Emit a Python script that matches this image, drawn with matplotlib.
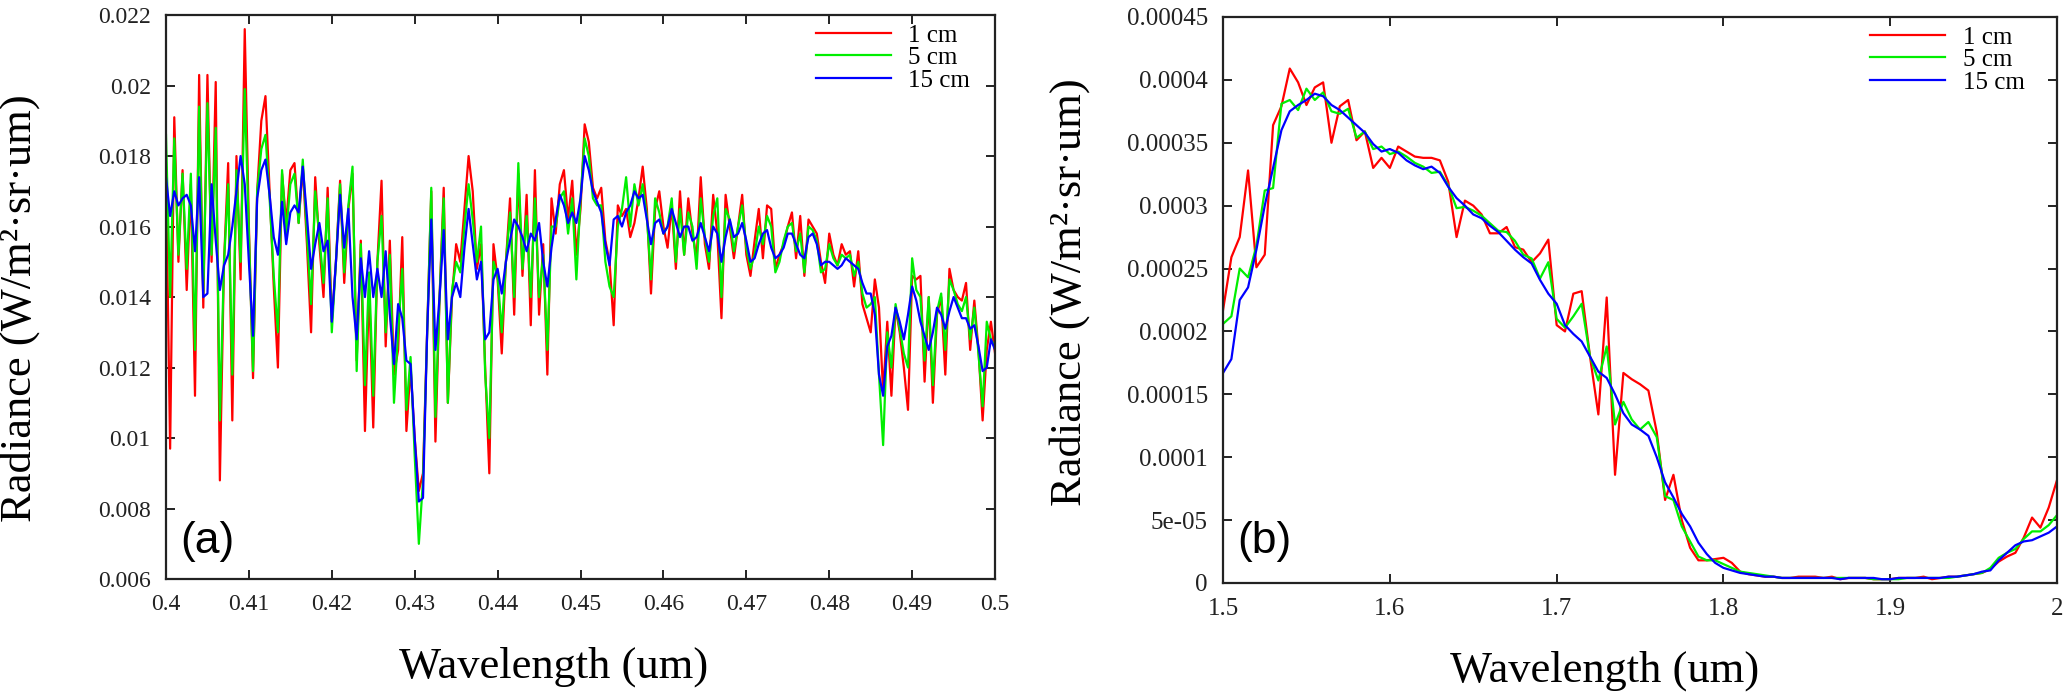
import numpy as np
import matplotlib
matplotlib.use("Agg")
import matplotlib.pyplot as plt

plt.rcParams['font.family'] = ['Liberation Serif', 'DejaVu Serif']

labels = ['1 cm', '5 cm', '15 cm']
colors = ['#ff0000', '#00ee00', '#0000ff']

# panel (a): 0.4-0.5 um, sampled every 0.5 nm
wl_a = np.linspace(0.4, 0.5, 201)
red_a = [
    0.0175, 0.0097, 0.0191, 0.0150, 0.0176, 0.0142, 0.0172, 0.0112, 0.0203, 0.0137,
    0.0203, 0.0150, 0.0201, 0.0088, 0.0150, 0.0178, 0.0105, 0.0180, 0.0145, 0.0216,
    0.0160, 0.0117, 0.0170, 0.0190, 0.0197, 0.0170, 0.0143, 0.0120, 0.0175, 0.0161,
    0.0176, 0.0178, 0.0161, 0.0177, 0.0155, 0.0130, 0.0174, 0.0155, 0.0140, 0.0171,
    0.0133, 0.0150, 0.0173, 0.0144, 0.0165, 0.0175, 0.0122, 0.0156, 0.0102, 0.0143,
    0.0103, 0.0150, 0.0173, 0.0126, 0.0156, 0.0118, 0.0125, 0.0157, 0.0102, 0.0120,
    0.0100, 0.0085, 0.0090, 0.0130, 0.0170, 0.0099, 0.0140, 0.0171, 0.0110, 0.0140,
    0.0155, 0.0150, 0.0165, 0.0180, 0.0170, 0.0148, 0.0155, 0.0120, 0.0090, 0.0155,
    0.0145, 0.0124, 0.0150, 0.0168, 0.0135, 0.0175, 0.0146, 0.0169, 0.0132, 0.0176,
    0.0135, 0.0155, 0.0118, 0.0168, 0.0158, 0.0172, 0.0176, 0.0162, 0.0173, 0.0152,
    0.0165, 0.0189, 0.0184, 0.0171, 0.0168, 0.0171, 0.0156, 0.0150, 0.0132, 0.0166,
    0.0163, 0.0165, 0.0157, 0.0161, 0.0168, 0.0177, 0.0165, 0.0141, 0.0165, 0.0170,
    0.0160, 0.0154, 0.0166, 0.0148, 0.0170, 0.0152, 0.0168, 0.0158, 0.0151, 0.0174,
    0.0155, 0.0148, 0.0169, 0.0158, 0.0134, 0.0169, 0.0160, 0.0151, 0.0160, 0.0169,
    0.0152, 0.0146, 0.0156, 0.0165, 0.0151, 0.0166, 0.0165, 0.0148, 0.0152, 0.0155,
    0.0160, 0.0164, 0.0151, 0.0163, 0.0146, 0.0162, 0.0160, 0.0158, 0.0150, 0.0144,
    0.0158, 0.0152, 0.0149, 0.0155, 0.0152, 0.0153, 0.0143, 0.0153, 0.0138, 0.0134,
    0.0130, 0.0145, 0.0137, 0.0113, 0.0133, 0.0112, 0.0137, 0.0130, 0.0120, 0.0108,
    0.0146, 0.0145, 0.0146, 0.0116, 0.0140, 0.0110, 0.0135, 0.0140, 0.0118, 0.0148,
    0.0142, 0.0140, 0.0139, 0.0144, 0.0125, 0.0139, 0.0125, 0.0105, 0.0125, 0.0133,
    0.0124]
green_a = [
    0.0186, 0.0140, 0.0185, 0.0152, 0.0175, 0.0148, 0.0175, 0.0125, 0.0194, 0.0141,
    0.0195, 0.0152, 0.0188, 0.0105, 0.0150, 0.0172, 0.0118, 0.0176, 0.0150, 0.0199,
    0.0158, 0.0119, 0.0170, 0.0182, 0.0186, 0.0168, 0.0146, 0.0130, 0.0176, 0.0158,
    0.0172, 0.0175, 0.0161, 0.0179, 0.0158, 0.0138, 0.0170, 0.0157, 0.0144, 0.0168,
    0.0130, 0.0150, 0.0172, 0.0147, 0.0166, 0.0177, 0.0119, 0.0155, 0.0115, 0.0147,
    0.0112, 0.0150, 0.0163, 0.0130, 0.0152, 0.0110, 0.0130, 0.0148, 0.0108, 0.0123,
    0.0095, 0.0070, 0.0088, 0.0130, 0.0171, 0.0106, 0.0140, 0.0168, 0.0110, 0.0142,
    0.0150, 0.0147, 0.0160, 0.0172, 0.0162, 0.0150, 0.0160, 0.0118, 0.0100, 0.0150,
    0.0146, 0.0130, 0.0150, 0.0164, 0.0140, 0.0178, 0.0148, 0.0163, 0.0140, 0.0168,
    0.0140, 0.0152, 0.0125, 0.0160, 0.0160, 0.0168, 0.0170, 0.0158, 0.0168, 0.0145,
    0.0168, 0.0185, 0.0180, 0.0168, 0.0166, 0.0166, 0.0150, 0.0143, 0.0140, 0.0160,
    0.0165, 0.0174, 0.0160, 0.0172, 0.0166, 0.0172, 0.0163, 0.0145, 0.0168, 0.0164,
    0.0158, 0.0160, 0.0168, 0.0150, 0.0165, 0.0152, 0.0164, 0.0160, 0.0148, 0.0168,
    0.0157, 0.0150, 0.0163, 0.0168, 0.0140, 0.0165, 0.0162, 0.0153, 0.0160, 0.0166,
    0.0154, 0.0148, 0.0152, 0.0160, 0.0155, 0.0163, 0.0160, 0.0147, 0.0150, 0.0156,
    0.0160, 0.0161, 0.0153, 0.0158, 0.0147, 0.0160, 0.0159, 0.0156, 0.0147, 0.0148,
    0.0155, 0.0151, 0.0149, 0.0152, 0.0151, 0.0152, 0.0146, 0.0150, 0.0141, 0.0137,
    0.0138, 0.0140, 0.0118, 0.0098, 0.0130, 0.0120, 0.0138, 0.0131, 0.0124, 0.0120,
    0.0151, 0.0142, 0.0140, 0.0122, 0.0140, 0.0115, 0.0136, 0.0141, 0.0125, 0.0145,
    0.0142, 0.0138, 0.0136, 0.0140, 0.0128, 0.0137, 0.0124, 0.0109, 0.0133, 0.0128,
    0.0126]
blue_a = [
    0.0174, 0.0163, 0.0170, 0.0166, 0.0168, 0.0169, 0.0166, 0.0153, 0.0174, 0.0140,
    0.0141, 0.0172, 0.0156, 0.0142, 0.0149, 0.0152, 0.0160, 0.0170, 0.0180, 0.0172,
    0.0150, 0.0129, 0.0168, 0.0176, 0.0179, 0.0169, 0.0157, 0.0152, 0.0167, 0.0155,
    0.0164, 0.0166, 0.0164, 0.0177, 0.0163, 0.0148, 0.0155, 0.0161, 0.0153, 0.0156,
    0.0133, 0.0150, 0.0169, 0.0154, 0.0165, 0.0140, 0.0128, 0.0151, 0.0140, 0.0153,
    0.0140, 0.0148, 0.0140, 0.0153, 0.0135, 0.0121, 0.0138, 0.0134, 0.0122, 0.0121,
    0.0100, 0.0082, 0.0083, 0.0130, 0.0162, 0.0125, 0.0140, 0.0159, 0.0128, 0.0140,
    0.0144, 0.0140, 0.0154, 0.0165, 0.0155, 0.0145, 0.0150, 0.0128, 0.0130, 0.0145,
    0.0148, 0.0141, 0.0150, 0.0156, 0.0162, 0.0160, 0.0157, 0.0153, 0.0158, 0.0156,
    0.0161, 0.0150, 0.0143, 0.0154, 0.0162, 0.0169, 0.0166, 0.0161, 0.0164, 0.0161,
    0.0168, 0.0180, 0.0176, 0.0170, 0.0167, 0.0164, 0.0155, 0.0149, 0.0162, 0.0163,
    0.0160, 0.0164, 0.0166, 0.0170, 0.0168, 0.0169, 0.0162, 0.0155, 0.0161, 0.0162,
    0.0158, 0.0160, 0.0165, 0.0161, 0.0157, 0.0160, 0.0160, 0.0156, 0.0157, 0.0161,
    0.0157, 0.0153, 0.0160, 0.0158, 0.0150, 0.0157, 0.0162, 0.0157, 0.0158, 0.0161,
    0.0156, 0.0150, 0.0151, 0.0155, 0.0158, 0.0159, 0.0154, 0.0151, 0.0152, 0.0154,
    0.0158, 0.0158, 0.0155, 0.0152, 0.0151, 0.0157, 0.0158, 0.0155, 0.0149, 0.0150,
    0.0150, 0.0149, 0.0148, 0.0149, 0.0151, 0.0150, 0.0149, 0.0148, 0.0144, 0.0141,
    0.0141, 0.0135, 0.0118, 0.0112, 0.0126, 0.0129, 0.0137, 0.0133, 0.0128, 0.0135,
    0.0143, 0.0139, 0.0133, 0.0129, 0.0125, 0.0130, 0.0137, 0.0135, 0.0131, 0.0136,
    0.0140, 0.0137, 0.0134, 0.0134, 0.0131, 0.0132, 0.0126, 0.0119, 0.0120, 0.0128,
    0.0125]

# panel (b): 1.5-2.0 um, every 0.005 um, radiance in units of 1e-6
wl_b = np.linspace(1.5, 2.0, 101)
red_b = [
    217, 259, 275, 328, 251, 261, 364, 379, 409, 398,
    380, 394, 398, 350, 379, 384, 352, 359, 330, 338,
    330, 347, 343, 339, 338, 338, 336, 319, 275, 304,
    300, 293, 278, 278, 283, 267, 265, 255, 262, 273,
    205, 200, 230, 232, 180, 134, 227, 86, 167, 162,
    158, 153, 120, 66, 86, 50, 28, 18, 18, 19,
    20, 16, 9, 7, 6, 5, 5, 4, 4, 5,
    5, 5, 4, 5, 3, 4, 4, 4, 3, 3,
    3, 4, 4, 4, 5, 3, 4, 5, 5, 6,
    7, 8, 11, 17, 21, 24, 36, 52, 44, 60,
    82]
green_b = [
    206, 212, 250, 243, 268, 312, 314, 381, 384, 376,
    393, 384, 390, 375, 373, 377, 354, 359, 345, 347,
    341, 343, 339, 334, 331, 326, 327, 316, 298, 299,
    296, 292, 286, 280, 279, 272, 261, 258, 242, 255,
    210, 203, 212, 222, 180, 161, 188, 126, 144, 130,
    122, 128, 116, 69, 66, 45, 33, 21, 18, 18,
    15, 12, 9, 8, 7, 6, 5, 4, 4, 4,
    4, 4, 4, 4, 4, 4, 4, 4, 3, 3,
    3, 3, 4, 4, 4, 4, 4, 4, 5, 6,
    7, 8, 12, 20, 24, 27, 35, 41, 41, 46,
    54]
blue_b = [
    167, 178, 225, 235, 265, 300, 330, 360, 375, 380,
    384, 389, 387, 380, 376, 370, 364, 358, 349, 343,
    345, 342, 336, 332, 329, 331, 326, 315, 306, 300,
    293, 290, 284, 279, 272, 265, 259, 254, 241, 230,
    222, 205, 198, 192, 180, 168, 163, 150, 135, 126,
    122, 117, 100, 80, 68, 55, 45, 32, 23, 16,
    12, 10, 8, 7, 6, 5, 5, 4, 4, 4,
    4, 4, 4, 4, 3, 4, 4, 4, 4, 3,
    3, 4, 4, 4, 4, 4, 4, 5, 5, 6,
    7, 9, 10, 18, 24, 30, 33, 34, 37, 40,
    45]

xticks_a = [0.4, 0.41, 0.42, 0.43, 0.44, 0.45, 0.46, 0.47, 0.48, 0.49, 0.5]
yticks_a = [0.006, 0.008, 0.01, 0.012, 0.014, 0.016, 0.018, 0.02, 0.022]
xticks_b = [1.5, 1.6, 1.7, 1.8, 1.9, 2.0]
yticks_b = [0, 5e-05, 0.0001, 0.00015, 0.0002, 0.00025, 0.0003, 0.00035, 0.0004, 0.00045]

fig = plt.figure(figsize=(20.67, 6.96), dpi=100)
ax1 = fig.add_axes([0.0803, 0.168, 0.4011, 0.8104])
ax2 = fig.add_axes([0.5917, 0.1624, 0.4035, 0.8132])

def style(ax, xt, yt, fs):
    ax.set_xticks(xt)
    ax.set_yticks(yt)
    ax.set_xticklabels(['%g' % v for v in xt])
    ax.set_yticklabels(['%g' % v for v in yt])
    ax.tick_params(direction='in', top=True, right=True, length=6.5, width=1.4,
                   labelsize=fs, pad=11, colors='#222222')
    for s in ax.spines.values():
        s.set_linewidth(1.6)
        s.set_color('#222222')
    ax.set_xlabel('Wavelength (um)', fontsize=32)
    ax.set_ylabel('Radiance (W/m²·sr·um)', fontsize=32)

for ys, c, lab in zip([red_a, green_a, blue_a], colors, labels):
    ax1.plot(wl_a, ys, color=c, lw=1.6, label=lab)
ax1.set_xlim(0.4, 0.5)
ax1.set_ylim(0.006, 0.022)
style(ax1, xticks_a, yticks_a, 17)
ax1.xaxis.set_label_coords(0.467, -0.12)
ax1.yaxis.set_label_coords(-0.152, 0.48)
ax1.text(0.017, 0.03, '(a)', transform=ax1.transAxes, fontsize=32,
         family='Liberation Sans', va='bottom', ha='left')
ax1.legend(loc='upper left', bbox_to_anchor=(0.784, 0.984), frameon=False,
           fontsize=18, handlelength=3.0, handletextpad=0.7, labelspacing=0.0,
           borderpad=0, borderaxespad=0)

for ys, c, lab in zip([red_b, green_b, blue_b], colors, labels):
    ax2.plot(wl_b, np.array(ys) * 1e-6, color=c, lw=1.6, label=lab)
ax2.set_xlim(1.5, 2.0)
ax2.set_ylim(0, 0.00045)
style(ax2, xticks_b, yticks_b, 18)
ax2.xaxis.set_label_coords(0.457, -0.12)
ax2.yaxis.set_label_coords(-0.159, 0.514)
ax2.text(0.017, 0.037, '(b)', transform=ax2.transAxes, fontsize=32,
         family='Liberation Sans', va='bottom', ha='left')
ax2.legend(loc='upper left', bbox_to_anchor=(0.776, 0.984), frameon=False,
           fontsize=18, handlelength=3.0, handletextpad=0.7, labelspacing=0.0,
           borderpad=0, borderaxespad=0)

fig.savefig('out.png', dpi=100)
